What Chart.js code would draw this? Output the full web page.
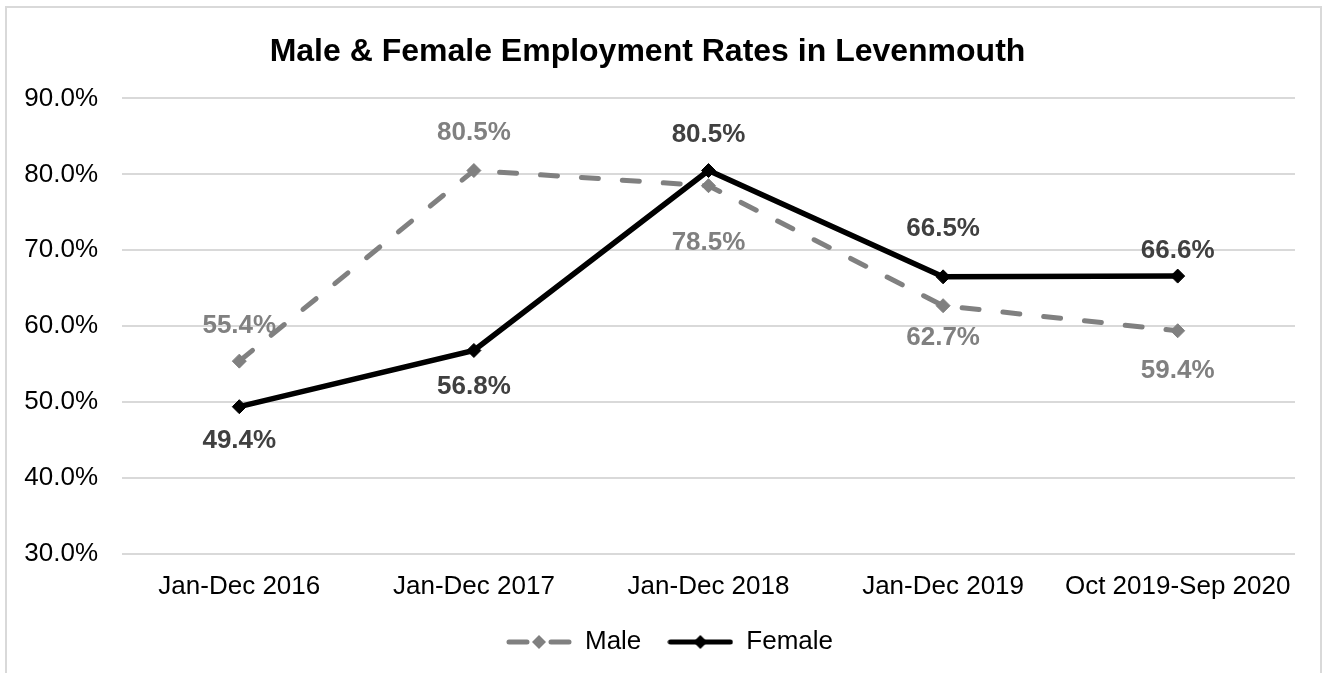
<!DOCTYPE html>
<html>
<head>
<meta charset="utf-8">
<script src="https://cdn.jsdelivr.net/npm/chart.js@4"></script>
<style>
  html, body { margin: 0; padding: 0; background: #fff; overflow: hidden; }
  #frame { position: absolute; left: 5px; top: 6px; width: 1317px; height: 720px; border: 2px solid #d9d9d9; box-sizing: border-box; pointer-events: none; }
  #c { position: absolute; left: 0; top: 0; }
</style>
</head>
<body>
<div id="frame"></div>
<canvas id="c" width="1325" height="673"></canvas>
<script>
// ---- data ----
const categories = ['Jan-Dec 2016', 'Jan-Dec 2017', 'Jan-Dec 2018', 'Jan-Dec 2019', 'Oct 2019-Sep 2020'];
const maleRates = [55.4, 80.5, 78.5, 62.7, 59.4];
const femaleRates = [49.4, 56.8, 80.5, 66.5, 66.6];
const yTicks = { min: 30, max: 90, step: 10 };
const chartTitle = 'Male & Female Employment Rates in Levenmouth';

// ---- label offsets (pixels from point, negative = above) ----
const maleLabelOffset = [-35, -38, 57, 32, 40];
const femaleLabelOffset = [34, 36, -36, -48, -25];

const FONT = "'Liberation Sans', Arial, sans-serif";
const MALE_COLOR = '#808080';
const FEMALE_COLOR = '#000000';

function legendIcon(color, dashed) {
  const cv = document.createElement('canvas');
  cv.width = 66; cv.height = 18;
  const g = cv.getContext('2d');
  g.strokeStyle = color; g.fillStyle = color;
  g.lineWidth = 5; g.lineCap = 'round';
  g.beginPath();
  if (dashed) {
    g.moveTo(3, 9); g.lineTo(21, 9);
    g.moveTo(45, 9); g.lineTo(63, 9);
  } else {
    g.moveTo(3, 9); g.lineTo(63, 9);
  }
  g.stroke();
  g.beginPath();
  g.moveTo(33, 2); g.lineTo(40, 9); g.lineTo(33, 16); g.lineTo(26, 9); g.closePath();
  g.fill();
  return cv;
}
const maleIcon = legendIcon(MALE_COLOR, true);
const femaleIcon = legendIcon(FEMALE_COLOR, false);

const dataLabelPlugin = {
  id: 'dataLabels',
  afterDatasetsDraw(chart) {
    const ctx = chart.ctx;
    ctx.save();
    ctx.font = 'bold 26px ' + FONT;
    ctx.textAlign = 'center';
    ctx.textBaseline = 'middle';
    chart.data.datasets.forEach((ds, di) => {
      const meta = chart.getDatasetMeta(di);
      meta.data.forEach((pt, i) => {
        ctx.fillStyle = ds.labelColor;
        ctx.fillText(ds.data[i].toFixed(1) + '%', pt.x, pt.y + ds.labelOffset[i]);
      });
    });
    ctx.restore();
  }
};

const legendShift = {
  id: 'legendShift',
  afterLayout(chart) {
    if (chart.legend) { chart.legend.left += 22; chart.legend.right += 22; }
  }
};

new Chart(document.getElementById('c'), {
  type: 'line',
  data: {
    labels: categories,
    datasets: [
      {
        label: 'Male', data: maleRates, order: 2,
        borderColor: MALE_COLOR, backgroundColor: MALE_COLOR,
        borderWidth: 5, borderDash: [17, 24], borderCapStyle: 'round',
        pointStyle: 'rectRot', pointRadius: 7, pointBorderWidth: 1,
        pointBackgroundColor: MALE_COLOR, pointBorderColor: MALE_COLOR,
        tension: 0, fill: false,
        labelColor: '#808080', labelOffset: maleLabelOffset
      },
      {
        label: 'Female', data: femaleRates, order: 1,
        borderColor: FEMALE_COLOR, backgroundColor: FEMALE_COLOR,
        borderWidth: 5.5, borderCapStyle: 'round',
        pointStyle: 'rectRot', pointRadius: 7, pointBorderWidth: 1,
        pointBackgroundColor: FEMALE_COLOR, pointBorderColor: FEMALE_COLOR,
        tension: 0, fill: false,
        labelColor: '#404040', labelOffset: femaleLabelOffset
      }
    ]
  },
  plugins: [dataLabelPlugin, legendShift],
  options: {
    responsive: false,
    animation: false,
    layout: { padding: { left: 0, right: 30, top: 0, bottom: 8 } },
    plugins: {
      tooltip: { enabled: false },
      title: {
        display: true, text: chartTitle, color: '#000',
        font: { family: FONT, size: 32, weight: 'bold' },
        padding: { top: 33, bottom: 27 }
      },
      legend: {
        display: true, position: 'bottom',
        labels: {
          color: '#000', font: { family: FONT, size: 26 },
          usePointStyle: true, pointStyleWidth: 66, padding: 26,
          generateLabels: () => [
            { text: 'Male', pointStyle: maleIcon, fillStyle: MALE_COLOR, strokeStyle: MALE_COLOR, lineWidth: 0, datasetIndex: 0 },
            { text: 'Female', pointStyle: femaleIcon, fillStyle: FEMALE_COLOR, strokeStyle: FEMALE_COLOR, lineWidth: 0, datasetIndex: 1 }
          ]
        }
      }
    },
    scales: {
      x: {
        offset: true,
        grid: { display: false, drawTicks: false },
        border: { display: false },
        ticks: { color: '#000', font: { family: FONT, size: 26 }, padding: 17, maxRotation: 0, autoSkip: false },
        afterFit(s) { s.height = 49; }
      },
      y: {
        min: yTicks.min, max: yTicks.max,
        grid: { color: '#d9d9d9', lineWidth: 2, drawTicks: false },
        border: { display: false },
        ticks: {
          stepSize: yTicks.step, color: '#000', font: { family: FONT, size: 26 }, padding: 24,
          callback: v => v.toFixed(1) + '%'
        },
        afterFit(s) { s.width = 122; }
      }
    }
  }
});
</script>
</body>
</html>
